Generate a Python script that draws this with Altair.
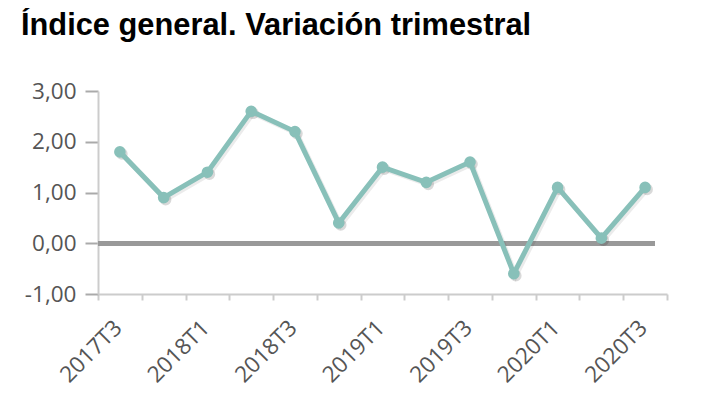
import altair as alt
import pandas as pd

periodos = ["2017T3", "2017T4", "2018T1", "2018T2", "2018T3", "2018T4", "2019T1",
            "2019T2", "2019T3", "2019T4", "2020T1", "2020T2", "2020T3"]
variacion = [1.8, 0.9, 1.4, 2.6, 2.2, 0.4, 1.5, 1.2, 1.6, -0.6, 1.1, 0.1, 1.1]
y_ticks = [-1, 0, 1, 2, 3]
titulo = "Índice general. Variación trimestral"

df = pd.DataFrame({"periodo": periodos, "valor": variacion})

W, H = 569, 203
COLOR = "#88c0b9"

x = alt.X(
    "periodo:N", sort=periodos,
    scale=alt.Scale(type="band", paddingInner=0, paddingOuter=0),
    axis=alt.Axis(
        orient="bottom",
        title=None, tickBand="extent", grid=False,
        labelAngle=315, labelAlign="right", labelBaseline="alphabetic",
        labelExpr="test(/T[13]$/, '' + datum.label) ? datum.label : ''",
        labelFont="Open Sans", labelFontSize=22.5, labelColor="#555555",
        labelPadding=29, labelOffset=3, labelOverlap=False,
        tickColor="#cccccc", tickSize=6, tickWidth=2,
        domainColor="#cccccc", domainWidth=2,
    ),
)
y = alt.Y(
    "valor:Q",
    scale=alt.Scale(domain=[-1, 3], nice=False, zero=False),
    axis=alt.Axis(
        orient="left",
        title=None, values=y_ticks,
        labelExpr="(datum.value < 0 ? '-' : '') + replace(format(abs(datum.value), '.2f'), '.', ',')",
        labelFont="Open Sans", labelFontSize=22.5, labelColor="#555555",
        labelPadding=9,
        tickColor="#aaaaaa", tickSize=13, tickWidth=2,
        domainColor="#cccccc", domainWidth=2,
        gridColor="#cccccc", gridWidth=1.5,
    ),
)

base = alt.Chart(df)

zero = base.mark_rule(color="#999999", strokeWidth=4).encode(
    y=alt.datum(0), x=alt.value(0), x2=alt.value(557)
)
shadow_line = base.mark_line(
    color="#000000", opacity=0.08, strokeWidth=5, xOffset=2, yOffset=2
).encode(x=x, y=y)
shadow_pts = base.mark_circle(
    color="#000000", opacity=0.15, size=135, xOffset=2, yOffset=2
).encode(x=x, y=y)
line = base.mark_line(color=COLOR, strokeWidth=5).encode(x=x, y=y)
pts = base.mark_circle(color=COLOR, opacity=1, size=135).encode(x=x, y=y)

chart = alt.layer(zero, shadow_line, shadow_pts, line, pts).properties(
    width=W, height=H,
    autosize=alt.AutoSizeParams(type="none"),
    padding={"left": 90, "top": 83, "right": 30, "bottom": 100},
    title=alt.TitleParams(
        titulo, anchor="start", frame="group", font="Liberation Sans",
        fontSize=30.8, fontWeight="bold", color="#000000",
        baseline="alphabetic", offset=14, dx=-77,
    ),
).configure_view(stroke=None)

chart.save("out.html", embed_options={"renderer": "svg", "actions": False})
